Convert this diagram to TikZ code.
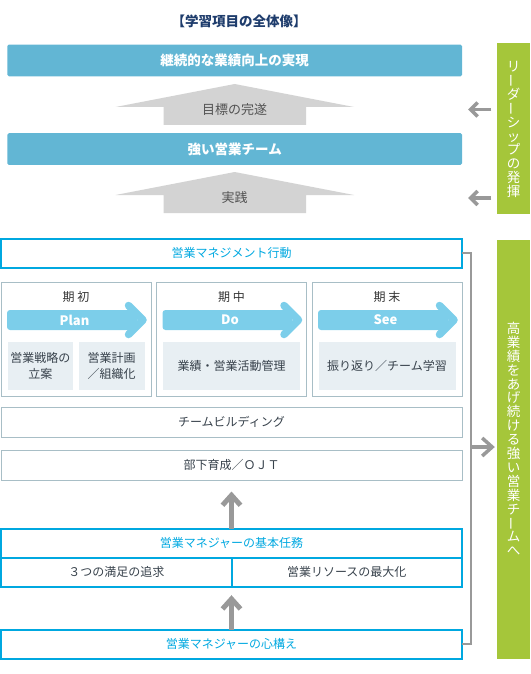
\documentclass[tikz,border=0pt]{standalone}
\usepackage{fontspec}
\setmainfont{Noto Sans CJK JP}
\usepackage{graphicx}
\usepackage{tikz}
\usetikzlibrary{arrows.meta,positioning,calc}
\definecolor{barblue}{RGB}{98,182,212}
\definecolor{lineblue}{RGB}{0,168,224}
\definecolor{planblue}{RGB}{124,206,234}
\definecolor{paleblue}{RGB}{232,239,243}
\definecolor{framegray}{RGB}{168,190,198}
\definecolor{arrowgray}{RGB}{153,153,153}
\definecolor{wedgegray}{RGB}{211,211,211}
\definecolor{leafgreen}{RGB}{165,198,58}
\definecolor{titlenavy}{RGB}{30,60,108}
\definecolor{textdark}{RGB}{55,65,75}
\newcommand{\tatebar}{\raisebox{0.12em}{\rotatebox[origin=c]{90}{ー}}}
\tikzset{
    titletext/.style={
        text=titlenavy,
        font=\fontsize{13.5}{16}\selectfont\bfseries
    },
    bluebar/.style={
        rectangle,
        fill=barblue,
        rounded corners=1.5pt,
        minimum width=454.6pt,
        minimum height=31.8pt,
        inner sep=0pt,
        text=white,
        font=\fontsize{13.5}{16}\selectfont\bfseries
    },
    wedgetext/.style={
        text=black!68,
        font=\fontsize{13}{16}\selectfont
    },
    leadbar/.style={
        rectangle,
        fill=leafgreen,
        minimum width=33pt,
        inner sep=0pt
    },
    leadtext/.style={
        align=center,
        text=white,
        inner sep=0pt,
        font=\fontsize{13.5}{13.9}\selectfont
    },
    cyanbox/.style={
        rectangle,
        draw=lineblue,
        line width=2pt,
        minimum width=461pt,
        minimum height=29pt,
        inner sep=0pt,
        outer sep=0pt,
        text=lineblue,
        font=\fontsize{12}{16}\selectfont
    },
    cyancell/.style={
        cyanbox,
        minimum width=230.5pt,
        text=textdark
    },
    framebox/.style={
        rectangle,
        draw=framegray,
        line width=1pt,
        minimum width=461pt,
        minimum height=30pt,
        inner sep=0pt,
        outer sep=0pt,
        text=textdark,
        font=\fontsize{12}{16}\selectfont
    },
    phasebox/.style={
        framebox,
        minimum width=150pt,
        minimum height=114pt
    },
    phasehead/.style={
        text=black!80,
        font=\fontsize{12}{16}\selectfont
    },
    subbox/.style={
        rectangle,
        fill=paleblue,
        minimum width=137pt,
        minimum height=48.5pt,
        inner sep=0pt,
        outer sep=0pt,
        align=center,
        text=textdark,
        font=\fontsize{12}{16}\selectfont
    },
    halfsub/.style={
        subbox,
        minimum width=65.75pt
    },
    planbar/.style={
        fill=planblue,
        rounded corners=3pt
    },
    planhead/.style={
        draw=planblue,
        line width=7.5pt,
        line cap=round,
        line join=round
    },
    planword/.style={
        text=white,
        font=\fontsize{13}{16}\selectfont\bfseries
    },
    leadarrow/.style={
        draw=arrowgray,
        line width=3.5pt,
        -{Straight Barb[length=7pt,width=14pt]}
    },
    uparrow/.style={
        draw=arrowgray,
        line width=5pt,
        -{Straight Barb[length=10pt,width=18pt]}
    },
    linkline/.style={
        draw=arrowgray,
        line width=2.2pt
    }
}
\begin{document}
\begin{tikzpicture}[x=1pt,y=-1pt]
       \useasboundingbox (0,0) rectangle (530,674);

       \node[titletext] (title) at (239,21) {【学習項目の全体像】};

       % Goals
       \node[bluebar] (result) at (234.7,60.5) {継続的な業績向上の実現};
       \node[bluebar] (team) at (234.7,149) {強い営業チーム};
       \fill[wedgegray] (115.5,107) -- (234.7,84) -- (354,107) -- (306,107) -- (306,125) -- (163.5,125) -- (163.5,107) -- cycle;
       \fill[wedgegray] (115.5,195) -- (234.7,172) -- (354,195) -- (306,195) -- (306,213) -- (163.5,213) -- (163.5,195) -- cycle;
       \node[wedgetext] (goal) at (234.7,109.5) {目標の完遂};
       \node[wedgetext] (practice) at (234.7,198) {実践};

       % Leadership
       \node[leadbar, minimum height=170.5pt] (lead) at (513.5,128.25) {};
       \node[leadtext] (leadlabel) at (513.5,129.5) {リ\\\tatebar\\ダ\\\tatebar\\シ\\ッ\\プ\\の\\発\\揮};
       \draw[leadarrow, shorten <=5.5pt, shorten >=6pt] (lead.west |- goal) -- (result.east |- goal);
       \draw[leadarrow, shorten <=5.5pt, shorten >=6pt] (lead.west |- practice) -- (team.east |- practice);

       % Management
       \node[cyanbox] (mgmt) at (231.5,253.2) {営業マネジメント行動};
       \node[phasebox] (early) at (76,339) {};
       \node[phasebox, right=5.5pt of early] (middle) {};
       \node[phasebox, right=5.5pt of middle] (late) {};

       \node[phasehead] (earlyhead) at ($(early.north)+(0,14.5)$) {期 初};
       \fill[planbar] ($(early.north west)+(6,28)$) rectangle ($(early.north west)+(136,48)$);
       \draw[planhead] ($(early.north west)+(127.5,23.5)$) -- ++(14.5,14.5) -- ++(-14.5,14.5);
       \node[planword] (plan) at ($(early.north west)+(73.5,38)$) {Plan};
       \node[halfsub, above right=6pt and 6.5pt of early.south west] (strategy) {営業戦略の\\立案};
       \node[halfsub, above left=6pt and 6.5pt of early.south east] (planning) {営業計画\\／組織化};

       \node[phasehead] (middlehead) at ($(middle.north)+(0,14.5)$) {期 中};
       \fill[planbar] ($(middle.north west)+(6,28)$) rectangle ($(middle.north west)+(136,48)$);
       \draw[planhead] ($(middle.north west)+(127.5,23.5)$) -- ++(14.5,14.5) -- ++(-14.5,14.5);
       \node[planword] (do) at ($(middle.north west)+(73.5,38)$) {Do};
       \node[subbox, above=6pt of middle.south] (track) {業績・営業活動管理};

       \node[phasehead] (latehead) at ($(late.north)+(0,14.5)$) {期 末};
       \fill[planbar] ($(late.north west)+(6,28)$) rectangle ($(late.north west)+(136,48)$);
       \draw[planhead] ($(late.north west)+(127.5,23.5)$) -- ++(14.5,14.5) -- ++(-14.5,14.5);
       \node[planword] (see) at ($(late.north west)+(73.5,38)$) {See};
       \node[subbox, above=6pt of late.south] (review) {振り返り／チーム学習};

       \node[framebox] (build) at (231.5,422.3) {チームビルディング};
       \node[framebox, below=12.7pt of build] (ojt) {部下育成／ＯＪＴ};

       % Basics
       \node[cyanbox] (mission) at (231.5,543.2) {営業マネジャーの基本任務};
       \node[cyancell, anchor=north west] (satisfy) at (mission.south west) {３つの満足の追求};
       \node[cyancell, anchor=north east] (resource) at (mission.south east) {営業リソースの最大化};
       \node[cyanbox] (mind) at (231.5,644.2) {営業マネジャーの心構え};

       \draw[uparrow, xshift=-2pt, shorten >=11.5pt] (mission.north) -- (ojt.south);
       \draw[uparrow, shorten >=8.5pt] (mind.north) -- (mind.north |- satisfy.south);

       % Outcome
       \node[leadbar, minimum height=419pt] (outcome) at (513.5,449) {};
       \node[leadtext] (outcomelabel) at (513.5,439) {高\\業\\績\\を\\あ\\げ\\続\\け\\る\\強\\い\\営\\業\\チ\\\tatebar\\ム\\へ};
       \draw[linkline] (mgmt.east) -- ++(9,0) coordinate (fork) |- (mind.east);
       \draw[uparrow, line width=3.5pt, shorten >=2pt] (fork |- 0,447) -- (outcome.west |- 0,447);

   \end{tikzpicture}
\end{document}
